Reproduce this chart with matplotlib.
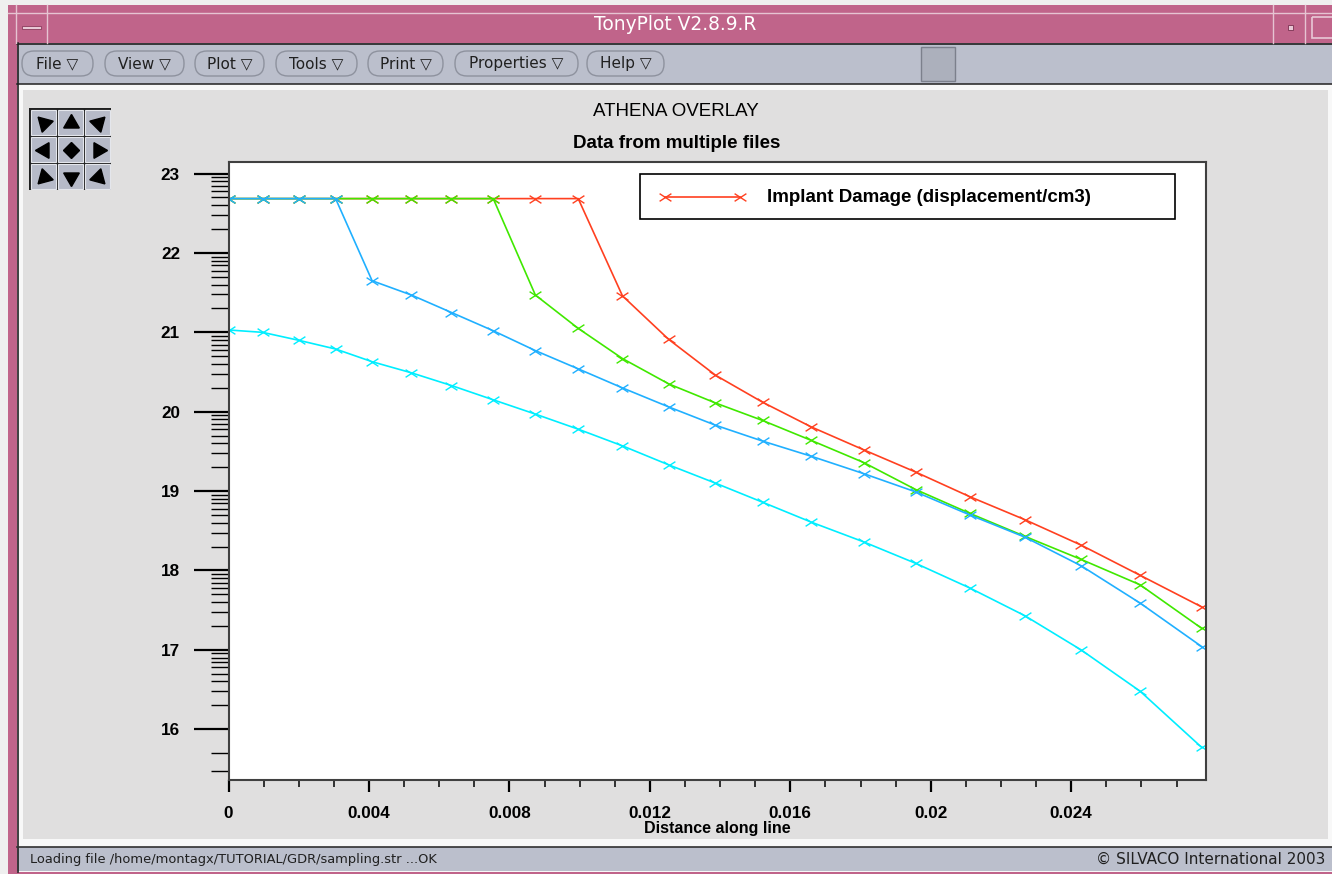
import numpy as np
import matplotlib
matplotlib.use('Agg')
import matplotlib.pyplot as plt
from matplotlib.patches import Rectangle, FancyBboxPatch
from matplotlib.path import Path

W, H = 1332, 874

# distance along the cut line
dist = [0.0, 0.00097, 0.00200, 0.00305, 0.00409, 0.00521, 0.00635, 0.00754,
        0.00874, 0.00996, 0.01122, 0.01254, 0.01387, 0.01521, 0.01659, 0.01809,
        0.01957, 0.02111, 0.02268, 0.02428, 0.02596, 0.02772]

# log10 of implant damage for the four overlaid files
dmg_red = [22.685] * 10 + [21.46, 20.91, 20.46, 20.12, 19.81, 19.52, 19.24,
                           18.93, 18.64, 18.32, 17.94, 17.54]
dmg_green = [22.685] * 8 + [21.47, 21.05, 20.67, 20.35, 20.11, 19.89, 19.64,
                            19.36, 19.02, 18.72, 18.43, 18.14, 17.82, 17.27]
dmg_blue = [22.685] * 4 + [21.65, 21.47, 21.25, 21.02, 20.77, 20.54, 20.30,
                           20.06, 19.83, 19.63, 19.44, 19.22, 18.99, 18.70,
                           18.42, 18.06, 17.59, 17.04]
dmg_cyan = [21.03, 21.00, 20.90, 20.79, 20.63, 20.49, 20.33, 20.15, 19.97,
            19.78, 19.57, 19.33, 19.10, 18.86, 18.61, 18.36, 18.09, 17.78,
            17.43, 17.00, 16.48, 15.77]

xticks = [0, 0.004, 0.008, 0.012, 0.016, 0.02, 0.024]
xticklabels = ['0', '0.004', '0.008', '0.012', '0.016', '0.02', '0.024']
yticks = [16, 17, 18, 19, 20, 21, 22, 23]

legend_label = 'Implant Damage (displacement/cm3)'
menus = ['File', 'View', 'Plot', 'Tools', 'Print', 'Properties', 'Help']

pink = '#c0648a'
toolbar = '#bbbfcc'
panel = '#e0dfdf'
c_red, c_green, c_blue, c_cyan = '#ff4020', '#40e800', '#20b0ff', '#00eeff'

xmark = Path([(-1, -0.65), (1, 0.65), (-1, 0.65), (1, -0.65)],
             [Path.MOVETO, Path.LINETO, Path.MOVETO, Path.LINETO])

fig = plt.figure(figsize=(W / 100, H / 100), dpi=100)
fig.patch.set_facecolor('#efefef')

# ---- window chrome (pixel coordinates) ----
bg = fig.add_axes([0, 0, 1, 1])
bg.set_xlim(0, W)
bg.set_ylim(H, 0)
bg.axis('off')

def box(x0, y0, x1, y1, fc, ec='none', lw=0, z=1):
    bg.add_patch(Rectangle((x0, y0), x1 - x0, y1 - y0, facecolor=fc,
                           edgecolor=ec, linewidth=lw, zorder=z))

box(8, 5, W, H, pink)
box(17, 43, W, 872, '#f8f8f8')
box(17, 43, W, 84, toolbar)
bg.plot([17, W], [43.5, 43.5], color='#202020', lw=1.2, zorder=2)
bg.plot([17, W], [84, 84], color='#303030', lw=1.2, zorder=2)
bg.plot([17.5, 17.5], [43, 872], color='#202020', lw=1.2, zorder=2)
box(23, 90, 1328, 839, panel)
box(17, 847, W, 871, toolbar)
bg.plot([17, W], [847, 847], color='#303030', lw=1.2, zorder=2)

# title bar lines / buttons
bg.plot([8, W], [12.5, 12.5], color='#e6c4d2', lw=1, zorder=2)
for xv in [16, 47, 1273, 1305]:
    bg.plot([xv, xv], [5, 43], color='#e6c4d2', lw=1, zorder=2)
box(22, 25.5, 41, 28.5, '#e8c8d6', ec='#8a3a5c', lw=0.6, z=3)
box(1288, 25, 1293, 30, '#e8c8d6', ec='#7a3050', lw=0.6, z=3)
box(1312, 17, 1336, 38, 'none', ec='#e8c8d6', lw=1.2, z=3)
bg.text(675, 25, 'TonyPlot V2.8.9.R', ha='center', va='center', color='white',
        fontsize=13.4, family='DejaVu Sans', zorder=3)

# menu buttons
menu_x = [(22, 93), (105, 184), (195, 264), (276, 357), (368, 443),
          (455, 578), (587, 664)]
for (x0, x1), name in zip(menu_x, menus):
    bg.add_patch(FancyBboxPatch((x0, 51), x1 - x0, 25,
                                boxstyle='round,pad=0,rounding_size=12',
                                facecolor=toolbar, edgecolor='#8e929e',
                                linewidth=1, zorder=3))
    bg.text((x0 + x1) / 2, 63.5, name + ' \u25bd', ha='center', va='center',
            fontsize=11, family='DejaVu Sans', color='#202020', zorder=4)
box(921, 47, 955, 81, '#acb0bc', ec='#7c808c', lw=1, z=3)

# pan/zoom button grid
box(29, 108, 111, 190, '#202020', z=2)
arrow_angles = [[45, 0, 315], [90, None, 270], [135, 180, 225]]
for r in range(3):
    for c in range(3):
        x0 = 30.5 + c * 27
        y0 = 109.5 + r * 27
        box(x0, y0, x0 + 25.5, y0 + 25.5, '#b6bac8', ec='#e4e6ec', lw=0.8, z=3)
        cx, cy = x0 + 13, y0 + 13
        ang = arrow_angles[r][c]
        if ang is None:
            bg.plot(cx, cy, marker='D', ms=8, color='black', zorder=4)
        else:
            bg.plot(cx, cy, marker=(3, 0, ang), ms=13, color='black', zorder=4)

# status bar
bg.text(30, 859, 'Loading file /home/montagx/TUTORIAL/GDR/sampling.str ...OK',
        ha='left', va='center', fontsize=9.4, family='DejaVu Sans',
        color='#202020', zorder=3)
bg.text(1325, 859, '\u00a9 SILVACO International 2003', ha='right',
        va='center', fontsize=11, family='DejaVu Sans', color='#202020',
        zorder=3)

# titles
fig.text(676 / W, 1 - 111 / H, 'ATHENA OVERLAY', ha='center', va='center',
         fontsize=13.5, family='Liberation Sans', color='black')
fig.text(677 / W, 1 - 143 / H, 'Data from multiple files', ha='center',
         va='center', fontsize=13.5, family='Liberation Sans',
         fontweight='bold', color='black')

# ---- main plot ----
left, right, top, bottom = 228.5, 1206, 161.7, 780
ax = fig.add_axes([left / W, 1 - bottom / H, (right - left) / W, (bottom - top) / H])
ax.set_facecolor('white')

for y, col in [(dmg_red, c_red), (dmg_green, c_green), (dmg_blue, c_blue),
               (dmg_cyan, c_cyan)]:
    ax.plot(dist, y, color=col, lw=1.2, marker=xmark, ms=8.5, mew=1.0)

ax.set_xlim(0, 0.02784)
ax.set_ylim(15.36, 23.15)
ax.set_xticks(xticks)
ax.set_xticklabels(xticklabels)
ax.set_xticks(np.arange(0.001, 0.0279, 0.001), minor=True)
ax.set_yticks(yticks)
ax.set_yticklabels([str(v) for v in yticks])
ylo, yhi = ax.get_ylim()
minor_y = [d + np.log10(k) for d in range(16, 24) for k in range(2, 10)]
minor_y += [15 + np.log10(3), 15 + np.log10(5)]
ax.set_yticks([v for v in minor_y if ylo <= v <= yhi], minor=True)

ax.tick_params(axis='x', which='major', direction='out', length=8.6, width=1.6,
               pad=10, colors='black')
ax.tick_params(axis='x', which='minor', direction='out', length=5, width=1.1)
ax.tick_params(axis='y', which='major', direction='out', length=25, width=1.6,
               pad=10, colors='black')
ax.tick_params(axis='y', which='minor', direction='out', length=13, width=1.0)
for lab in ax.get_xticklabels() + ax.get_yticklabels():
    lab.set_family('Liberation Sans')
    lab.set_fontweight('bold')
    lab.set_fontsize(12.3)
for sp in ax.spines.values():
    sp.set_color('#404040')
    sp.set_linewidth(1.5)

ax.set_xlabel('Distance along line', family='Liberation Sans',
              fontweight='bold', fontsize=11.5)
ax.xaxis.set_label_coords(0.5, -(829 - bottom) / (bottom - top))
ax.xaxis.label.set_va('center')

# ---- legend box (overlay in pixel coordinates) ----
ov = fig.add_axes([0, 0, 1, 1], zorder=10)
ov.set_xlim(0, W)
ov.set_ylim(H, 0)
ov.axis('off')
ov.patch.set_visible(False)
ov.add_patch(Rectangle((640, 174), 535, 45, facecolor='white',
                       edgecolor='black', linewidth=1.2))
ov.plot([665, 740], [197, 197], color=c_red, lw=1.2, marker=xmark, ms=8.5,
        mew=1.0)
ov.text(767, 198, legend_label, ha='left', va='center', fontsize=13.5,
        family='Liberation Sans', fontweight='bold', color='black')

fig.savefig('out.png', dpi=100, facecolor=fig.get_facecolor())
